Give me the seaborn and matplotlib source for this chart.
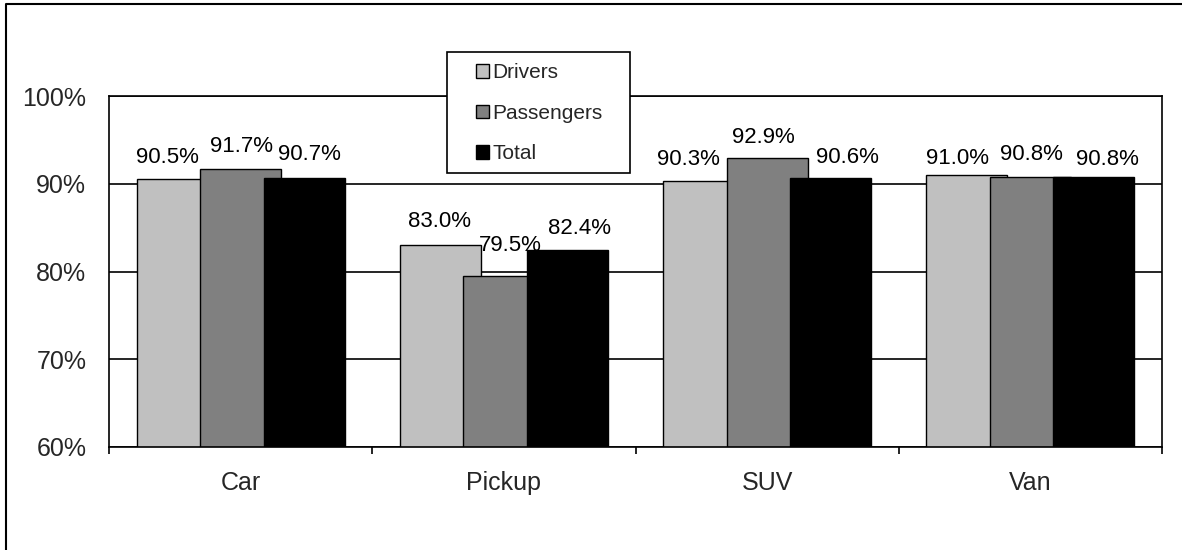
import matplotlib
matplotlib.use("Agg")
import matplotlib.pyplot as plt
from matplotlib.patches import Patch, Rectangle
from matplotlib.lines import Line2D
import numpy as np
import pandas as pd
import seaborn as sns

# Share of occupants by vehicle type
categories = ["Car", "Pickup", "SUV", "Van"]
series_names = ["Drivers", "Passengers", "Total"]
drivers = [90.5, 83.0, 90.3, 91.0]
passengers = [91.7, 79.5, 92.9, 90.8]
total = [90.7, 82.4, 90.6, 90.8]
y_ticks = [60, 70, 80, 90, 100]

colors = ["#C0C0C0", "#808080", "#000000"]

df = pd.DataFrame({
    "Vehicle": categories * 3,
    "Group": [s for s in series_names for _ in categories],
    "Share": drivers + passengers + total,
})

sns.set_theme(style="white")
plt.rcParams["font.family"] = ["Liberation Sans", "DejaVu Sans"]

W, H = 1182, 550
fig = plt.figure(figsize=(W / 100, H / 100), dpi=100)
ax = fig.add_axes([109 / W, 1 - 447 / H, (1162 - 109) / W, (447 - 96) / H])

sns.barplot(data=df, x="Vehicle", y="Share", hue="Group",
            order=categories, hue_order=series_names, palette=colors,
            edgecolor="black", linewidth=1.0, errorbar=None,
            legend=False, ax=ax)

# Overlapping clustered bars: wide bars on a tighter step
bar_w = 0.308
step = 0.241
for i, cont in enumerate(ax.containers):
    off = (i - 1) * step
    for j, patch in enumerate(cont.patches):
        patch.set_width(bar_w)
        patch.set_x(j + off - bar_w / 2)

# Value labels, nudged (pixels) so neighbours don't collide
label_nudges = [
    [(-9.5, 16.5), (0.7, 17.0), (5.0, 17.4)],
    [(-0.7, 18.0), (6.0, 24.7), (12.0, 16.0)],
    [(-15.5, 16.0), (-4.0, 15.0), (16.5, 15.6)],
    [(-9.5, 10.8), (1.0, 17.0), (14.0, 11.5)],
]
values = [drivers, passengers, total]
for i in range(3):
    for j in range(len(categories)):
        v = values[i][j]
        dx, dy = label_nudges[j][i]
        ax.annotate(f"{v:.1f}%", xy=(j + (i - 1) * step, v),
                    xytext=(dx, dy), textcoords="offset pixels",
                    ha="center", va="baseline", fontsize=16, color="black")

ax.set_ylim(60, 100)
ax.set_xlim(-0.5, 3.5)
ax.set_yticks(y_ticks)
ax.set_yticklabels([f"{t}%" for t in y_ticks])
ax.set_xlabel("")
ax.set_ylabel("")

ax.set_axisbelow(True)
ax.yaxis.grid(True, color="black", linewidth=1.2)
ax.xaxis.grid(False)
for sp in ax.spines.values():
    sp.set_visible(True)
    sp.set_color("black")
    sp.set_linewidth(1.2)

ax.tick_params(axis="y", which="major", direction="out", length=5.8,
               width=1.2, color="black", pad=10.5, labelsize=18)
ax.set_xticks(range(len(categories)))
ax.set_xticklabels(categories)
ax.set_xticks(np.arange(-0.5, len(categories), 1.0), minor=True)
ax.tick_params(axis="x", which="major", length=0, pad=17.0, labelsize=18)
ax.tick_params(axis="x", which="minor", direction="out", length=5.2,
               width=1.2, color="black", bottom=True)

# Legend box
fig.add_artist(Rectangle((446.7 / W, 1 - 173.3 / H), 183.3 / W, 121.6 / H,
                         transform=fig.transFigure, facecolor="white",
                         edgecolor="black", linewidth=1.2, zorder=4))
handles = [Patch(facecolor=c, edgecolor="black", linewidth=1.0) for c in colors]
fig.legend(handles, series_names, loc="center left",
           bbox_to_anchor=(476 / W, 1 - 113.3 / H), bbox_transform=fig.transFigure,
           frameon=False, borderpad=0, borderaxespad=0, handlelength=0.6,
           handleheight=0.6, handletextpad=0.2, labelspacing=1.03, fontsize=15)

# Outer chart border
fig.add_artist(Line2D([6 / W, 6 / W, 1.0], [0.0, 1 - 4 / H, 1 - 4 / H],
                      transform=fig.transFigure, color="black", linewidth=1.5))

fig.savefig("out.png", dpi=100, facecolor="white")
